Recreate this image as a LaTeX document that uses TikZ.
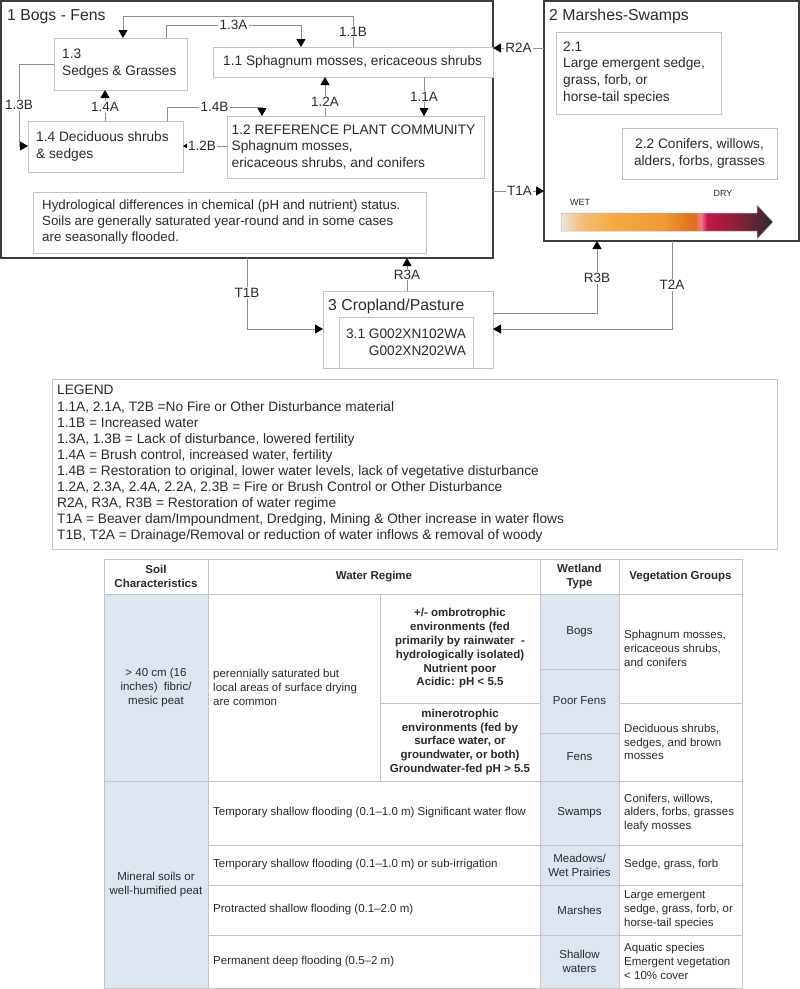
\documentclass[tikz,border=0pt]{standalone}
\usepackage{fontspec}
\setmainfont{Liberation Sans}
\usetikzlibrary{arrows.meta}
\definecolor{txtc}{HTML}{2B2B2B}
\definecolor{lnc}{HTML}{8E8E8E}
\definecolor{bxc}{HTML}{C2C2C2}
\definecolor{dkc}{HTML}{3C3C3C}
\definecolor{blu}{HTML}{DDE5F0}
\definecolor{tbc}{HTML}{C4C4C4}
\definecolor{wda}{HTML}{ECE6DE}
\definecolor{wdb}{HTML}{F6C07E}
\definecolor{wdc}{HTML}{F5A943}
\definecolor{wdd}{HTML}{F09A35}
\definecolor{wde}{HTML}{E06D1C}
\definecolor{wdf}{HTML}{F27891}
\definecolor{wdg}{HTML}{C6164C}
\definecolor{wdh}{HTML}{8E2038}
\definecolor{wdi}{HTML}{2F2A2F}
\pgfdeclarehorizontalshading{wetdry}{100bp}{color(0bp)=(wda); color(25bp)=(wda); color(29.5bp)=(wdb); color(37bp)=(wdc); color(49bp)=(wdd); color(56.5bp)=(wde); color(58bp)=(wdf); color(59.5bp)=(wdg); color(66bp)=(wdh); color(75bp)=(wdi); color(100bp)=(wdi)}
\newcommand\fzbox{\fontsize{13.7}{16.8}\selectfont}
\newcommand\fztitle{\fontsize{15.8}{18}\selectfont}
\newcommand\fzlbl{\fontsize{13.5}{15}\selectfont}
\newcommand\fzleg{\fontsize{13.7}{16.1}\selectfont}
\newcommand\fztab{\fontsize{11.5}{13.8}\selectfont}
\newcommand\fzsm{\fontsize{9}{10}\selectfont}
\begin{document}
\begin{tikzpicture}[x=1pt,y=-1pt,
  gbox/.style={draw=bxc, line width=0.8pt, fill=white, inner sep=0pt, outer sep=0pt, anchor=north west},
  bigbox/.style={draw=dkc, line width=2pt, inner sep=0pt, outer sep=0pt, anchor=north west},
  txt/.style={inner sep=0pt, text=txtc, font=\fzbox, align=left},
  conn/.style={draw=lnc, line width=0.8pt, -{Triangle[length=8pt,width=9pt,color=black]}},
  lbl/.style={fill=white, inner sep=1.2pt, text=txtc, font=\fzlbl},
  tcell/.style={draw=tbc, line width=0.8pt, inner sep=0pt, outer sep=0pt, anchor=north west, text=txtc, font=\fztab, align=center},
  bcell/.style={tcell, fill=blu},
  hcell/.style={tcell, font=\fztab\bfseries},
  ocell/.style={tcell, font=\fztab\bfseries},
  ttxt/.style={inner sep=0pt, text=txtc, font=\fztab, align=left, anchor=west}]
\useasboundingbox (0,0) rectangle (800,989);
\fill[white] (0,0) rectangle (800,989);

% ---- big state boxes
\node[bigbox, minimum width=492pt, minimum height=257pt] (bx1) at (1,1) {};
\node[bigbox, minimum width=255pt, minimum height=240pt] (bx2) at (544,1) {};
\node[txt, font=\fztitle, anchor=base west] (ttl1) at (7,20.7) {1 Bogs - Fens};
\node[txt, font=\fztitle, anchor=base west] (ttl2) at (549,20.7) {2 Marshes-Swamps};

% ---- boxes in state 1
\node[gbox, minimum width=133pt, minimum height=52pt] (b13) at (54,38) {};
\node[gbox, minimum width=280pt, minimum height=30pt] (b11) at (213,47) {};
\node[gbox, minimum width=155pt, minimum height=51pt] (b14) at (28,121) {};
\node[gbox, minimum width=257pt, minimum height=62pt] (b12) at (227,116) {};
\node[gbox, minimum width=393pt, minimum height=61pt] (bhyd) at (33,192) {};
\node[txt, anchor=west] (t13) at ([xshift=8pt]b13.west) {1.3\\Sedges \& Grasses};
\node[txt, anchor=west] (t11) at ([xshift=10pt]b11.west) {1.1 Sphagnum mosses, ericaceous shrubs};
\node[txt, anchor=west] (t14) at ([xshift=8pt]b14.west) {1.4 Deciduous shrubs\\\& sedges};
\node[txt, anchor=west] (t12) at ([xshift=4.5pt]b12.west) {1.2 REFERENCE PLANT COMMUNITY\\Sphagnum mosses,\\ericaceous shrubs, and conifers};
\node[txt, anchor=west, font=\fontsize{13.3}{16}\selectfont] (thyd) at ([xshift=9pt]bhyd.west) {Hydrological differences in chemical (pH and nutrient) status.\\Soils are generally saturated year-round and in some cases\\are seasonally flooded.};

% ---- boxes in state 2
\node[gbox, minimum width=165pt, minimum height=82pt] (b21) at (556,32) {};
\node[gbox, minimum width=155pt, minimum height=51pt] (b22) at (622,128) {};
\node[txt, anchor=west] (t21) at ([xshift=7pt]b21.west) {2.1\\Large emergent sedge,\\grass, forb, or\\horse-tail species};
\node[txt, align=center] (t22) at (b22.center) {2.2 Conifers, willows,\\alders, forbs, grasses};
\shade[shading=wetdry, draw=black!30, line width=0.5pt] (561,213) -- (757,213) -- (757,205) -- (773,222) -- (757,239) -- (757,231) -- (561,231) -- cycle;
\node[txt, font=\fzsm] (wet) at (580,202) {WET};
\node[txt, font=\fzsm] (dry) at (723,193) {DRY};

% ---- state 3
\node[gbox, minimum width=170pt, minimum height=77pt] (crop) at (323,291) {};
\node[gbox, minimum width=134pt, minimum height=51pt] (b31) at (339,317) {};
\node[txt, font=\fztitle, anchor=base west] (ttl3) at (328,310.5) {3 Cropland/Pasture};
\node[txt, align=right] (t31) at (b31.center) {3.1 G002XN102WA\\G002XN202WA};

% ---- bend points
\coordinate (kA) at (353,16);
\coordinate (kB) at (123,16);
\coordinate (kC) at (166,25);
\coordinate (kD) at (301,25);
\coordinate (kE) at (19,64);
\coordinate (kF) at (19,146);
\coordinate (kG) at (105,0);
\coordinate (kH) at (167,107);
\coordinate (kI) at (262,107);
\coordinate (kJ) at (325,0);
\coordinate (kK) at (424,0);
\coordinate (kL) at (0,146);
\coordinate (kM) at (0,48);
\coordinate (kN) at (0,191);
\coordinate (kO) at (407,0);
\coordinate (kP) at (247,329);
\coordinate (kQ) at (597,313);
\coordinate (kR) at (672,329);

% ---- connectors in state 1
\draw[conn] (b11.north -| kA) -- node[lbl]{1.1B} (kA) -- (kB) -- (b13.north -| kB);
\draw[conn] (b13.north -| kC) -- (kC) -- node[lbl]{1.3A} (kD) -- (b11.north -| kD);
\draw[conn] (b13.west |- kE) -- (kE) -- node[lbl]{1.3B} (kF) -- (b14.west |- kF);
\draw[conn] (b14.north -| kG) -- node[lbl, pos=0.45]{1.4A} (b13.south -| kG);
\draw[conn] (b14.north -| kH) -- (kH) -- node[lbl]{1.4B} (kI) -- (b12.north -| kI);
\draw[conn] (b12.north -| kJ) -- node[lbl, pos=0.36]{1.2A} (b11.south -| kJ);
\draw[conn] (b11.south -| kK) -- node[lbl]{1.1A} (b12.north -| kK);
\draw[conn] (b12.west |- kL) -- node[lbl, pos=0.57]{1.2B} (b14.east |- kL);

% ---- connectors between states
\draw[conn] (bx2.west |- kM) -- node[lbl, pos=0.5]{R2A} (bx1.east |- kM);
\draw[conn] (bx1.east |- kN) -- node[lbl, pos=0.52]{T1A} (bx2.west |- kN);
\draw[conn] (crop.north -| kO) -- node[lbl]{R3A} (bx1.south -| kO);
\draw[conn] (bx1.south -| kP) -- node[lbl, pos=0.49]{T1B} (kP) -- (crop.west |- kP);
\draw[conn] (crop.east |- kQ) -- (kQ) -- node[lbl, pos=0.49]{R3B} (bx2.south -| kQ);
\draw[conn] (bx2.south -| kR) -- node[lbl, pos=0.5]{T2A} (kR) -- (crop.east |- kR);

% ---- legend
\node[gbox, minimum width=725pt, minimum height=170pt] (leg) at (52,379) {};
\node[txt, font=\fzleg, anchor=west] (tleg) at ([xshift=5pt]leg.west) {LEGEND\\
1.1A, 2.1A, T2B =No Fire or Other Disturbance material\\
1.1B = Increased water\\
1.3A, 1.3B = Lack of disturbance, lowered fertility\\
1.4A = Brush control, increased water, fertility\\
1.4B = Restoration to original, lower water levels, lack of vegetative disturbance\\
1.2A, 2.3A, 2.4A, 2.2A, 2.3B = Fire or Brush Control or Other Disturbance\\
R2A, R3A, R3B = Restoration of water regime\\
T1A = Beaver dam/Impoundment, Dredging, Mining \& Other increase in water flows\\
T1B, T2A = Drainage/Removal or reduction of water inflows \& removal of woody};

% ---- table: header
\node[hcell, minimum width=104pt, minimum height=35pt] (hS) at (104,559) {Soil\\Characteristics};
\node[hcell, minimum width=332pt, minimum height=35pt] (hW) at (208,559) {Water Regime};
\node[hcell, minimum width=79pt, minimum height=35pt] (hT) at (540,559) {Wetland\\Type};
\node[hcell, minimum width=123pt, minimum height=35pt] (hV) at (619,559) {Vegetation Groups};

% ---- table: peat rows
\node[tcell, minimum width=172pt, minimum height=187pt] (cW1) at (208,594) {};
\node[ttxt] (tW1) at ([xshift=5pt]cW1.west) {perennially saturated but\\local areas of surface drying\\are common};
\node[ocell, minimum width=160pt, minimum height=109pt] (cOm) at (380,594) {+/- ombrotrophic\\environments (fed\\primarily by rainwater~ -\\hydrologically isolated)\\Nutrient poor\\Acidic: pH < 5.5};
\node[ocell, minimum width=160pt, minimum height=78pt] (cMi) at (380,703) {minerotrophic\\environments (fed by\\surface water, or\\groundwater, or both)\\Groundwater-fed pH > 5.5};
\node[tcell, minimum width=123pt, minimum height=109pt] (cV1) at (619,594) {};
\node[ttxt] (tV1) at ([xshift=5pt]cV1.west) {Sphagnum mosses,\\ericaceous shrubs,\\and conifers};
\node[tcell, minimum width=123pt, minimum height=78pt] (cV2) at (619,703) {};
\node[ttxt] (tV2) at ([xshift=5pt]cV2.west) {Deciduous shrubs,\\sedges, and brown\\mosses};
\node[bcell, minimum width=104pt, minimum height=187pt] (cS1) at (104,594) {> 40 cm (16\\inches)~ fibric/\\mesic peat};
\node[bcell, minimum width=79pt, minimum height=75pt] (cBog) at (540,594) {Bogs};
\node[bcell, minimum width=79pt, minimum height=64pt] (cPF) at (540,669) {Poor Fens};
\node[bcell, minimum width=79pt, minimum height=48pt] (cFen) at (540,733) {Fens};

% ---- table: mineral rows
\node[tcell, minimum width=332pt, minimum height=64pt] (cWa) at (208,781) {};
\node[ttxt] (tWa) at ([xshift=5pt]cWa.west) {Temporary shallow flooding (0.1–1.0 m) Significant water flow};
\node[tcell, minimum width=123pt, minimum height=64pt] (cVa) at (619,781) {};
\node[ttxt] (tVa) at ([xshift=5pt]cVa.west) {Conifers, willows,\\alders, forbs, grasses\\leafy mosses};
\node[tcell, minimum width=332pt, minimum height=40pt] (cWb) at (208,845) {};
\node[ttxt] (tWb) at ([xshift=5pt]cWb.west) {Temporary shallow flooding (0.1–1.0 m) or sub-irrigation};
\node[tcell, minimum width=123pt, minimum height=40pt] (cVb) at (619,845) {};
\node[ttxt] (tVb) at ([xshift=5pt]cVb.west) {Sedge, grass, forb};
\node[tcell, minimum width=332pt, minimum height=50pt] (cWc) at (208,885) {};
\node[ttxt] (tWc) at ([xshift=5pt]cWc.west) {Protracted shallow flooding (0.1–2.0 m)};
\node[tcell, minimum width=123pt, minimum height=50pt] (cVc) at (619,885) {};
\node[ttxt] (tVc) at ([xshift=5pt]cVc.west) {Large emergent\\sedge, grass, forb, or\\horse-tail species};
\node[tcell, minimum width=332pt, minimum height=53pt] (cWd) at (208,935) {};
\node[ttxt] (tWd) at ([xshift=5pt]cWd.west) {Permanent deep flooding (0.5–2 m)};
\node[tcell, minimum width=123pt, minimum height=53pt] (cVd) at (619,935) {};
\node[ttxt] (tVd) at ([xshift=5pt]cVd.west) {Aquatic species\\Emergent vegetation\\< 10\% cover};
\node[bcell, minimum width=104pt, minimum height=207pt] (cS2) at (104,781) {Mineral soils or\\well-humified peat};
\node[bcell, minimum width=79pt, minimum height=64pt] (cTa) at (540,781) {Swamps};
\node[bcell, minimum width=79pt, minimum height=40pt] (cTb) at (540,845) {Meadows/\\Wet Prairies};
\node[bcell, minimum width=79pt, minimum height=50pt] (cTc) at (540,885) {Marshes};
\node[bcell, minimum width=79pt, minimum height=53pt] (cTd) at (540,935) {Shallow\\waters};
\end{tikzpicture}
\end{document}
